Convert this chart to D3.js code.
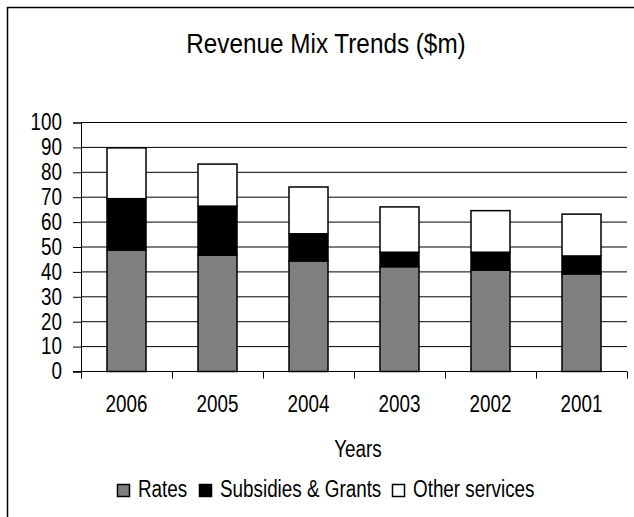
<!DOCTYPE html>
<html>
<head>
<meta charset="utf-8">
<script src="https://cdn.jsdelivr.net/npm/d3@7"></script>
<style>
  body { margin: 0; background: #fff; }
  text { font-family: "Liberation Sans", Arial, sans-serif; fill: #000; }
</style>
</head>
<body>
<svg id="chart" width="634" height="517"></svg>
<script>
// Revenue by source, $ millions, most recent year first
const years = ["2006", "2005", "2004", "2003", "2002", "2001"];
const rates = [48.8, 46.7, 44.4, 42.1, 40.7, 39.2];
const subsidiesGrants = [20.6, 19.7, 10.9, 5.8, 7.2, 7.2];
const otherServices = [20.4, 16.9, 18.8, 18.2, 16.7, 16.8];

const seriesNames = ["Rates", "Subsidies & Grants", "Other services"];
const seriesKeys = ["rates", "subsidies", "other"];
const seriesColors = ["#808080", "#000000", "#ffffff"];
const yTicks = [0, 10, 20, 30, 40, 50, 60, 70, 80, 90, 100];

const table = years.map((y, i) => ({
  year: y, rates: rates[i], subsidies: subsidiesGrants[i], other: otherServices[i]
}));

// condensed lettering: squeeze text horizontally around its anchor
const NARROW = 0.82;
function condense(sel, s) {
  sel.each(function () {
    const t = d3.select(this);
    const x0 = +t.attr("x") || 0;
    t.attr("x", x0 / s).attr("transform", `scale(${s},1)`);
  });
}

const svg = d3.select("#chart");
const plot = { left: 81, right: 627, top: 122.5, bottom: 371.5 };

// outer frame (top and left edges)
svg.append("path")
  .attr("d", `M7.5,517 V7.5 H634`)
  .attr("fill", "none").attr("stroke", "#000").attr("stroke-width", 1.5);

svg.append("text")
  .attr("x", 326).attr("y", 53)
  .attr("text-anchor", "middle")
  .style("font-size", "27px")
  .text("Revenue Mix Trends ($m)")
  .call(condense, 0.9);

const x = d3.scaleBand()
  .domain(years)
  .range([plot.left, plot.right])
  .paddingInner(52 / 91)
  .paddingOuter(26 / 91);

const y = d3.scaleLinear()
  .domain([0, 100])
  .range([plot.bottom, plot.top]);

// horizontal gridlines
svg.append("g")
  .selectAll("line")
  .data(yTicks)
  .join("line")
  .attr("x1", plot.left).attr("x2", plot.right)
  .attr("y1", d => y(d)).attr("y2", d => y(d))
  .attr("stroke", "#000").attr("stroke-width", 1);

// stacked bars
const layers = d3.stack().keys(seriesKeys)(table);

svg.append("g")
  .selectAll("g")
  .data(layers)
  .join("g")
  .attr("fill", (d, i) => seriesColors[i])
  .selectAll("rect")
  .data(d => d)
  .join("rect")
  .attr("x", d => x(d.data.year))
  .attr("width", x.bandwidth())
  .attr("y", d => y(d[1]))
  .attr("height", d => y(d[0]) - y(d[1]))
  .attr("stroke", "#000")
  .attr("stroke-width", 1.5);

// y axis
const yAxis = d3.axisLeft(y)
  .tickValues(yTicks)
  .tickSize(8)
  .tickPadding(11)
  .tickFormat(d3.format("d"));

const gy = svg.append("g")
  .attr("transform", `translate(${plot.left},0)`)
  .call(yAxis);
gy.select(".domain").attr("stroke", "#000");
gy.selectAll(".tick line").attr("stroke", "#000");
gy.selectAll(".tick text")
  .style("font-size", "23px")
  .style("font-family", null)
  .call(condense, NARROW);

// x axis: labels at band centres, tick marks on category boundaries
const xAxis = d3.axisBottom(x).tickSize(0).tickPadding(24);
const gx = svg.append("g")
  .attr("transform", `translate(0,${plot.bottom})`)
  .call(xAxis);
gx.select(".domain").remove();
gx.selectAll(".tick text")
  .style("font-size", "23px")
  .style("font-family", null)
  .call(condense, NARROW);

const boundaries = years.map((d, i) => i === 0 ? plot.left : x(d) - x.step() * x.paddingInner() / 2);
boundaries.push(plot.right);

svg.append("g")
  .selectAll("line")
  .data(boundaries)
  .join("line")
  .attr("x1", d => Math.round(d) + 0.5).attr("x2", d => Math.round(d) + 0.5)
  .attr("y1", plot.bottom).attr("y2", plot.bottom + 7)
  .attr("stroke", "#000");

svg.append("line")
  .attr("x1", plot.left - 8).attr("x2", plot.right)
  .attr("y1", plot.bottom).attr("y2", plot.bottom)
  .attr("stroke", "#000");

svg.append("text")
  .attr("x", 358).attr("y", 457)
  .attr("text-anchor", "middle")
  .style("font-size", "23px")
  .text("Years")
  .call(condense, NARROW);

// legend
const legend = svg.append("g").attr("transform", "translate(0,497)");
const items = legend.selectAll("g")
  .data(seriesNames)
  .join("g");
items.append("rect")
  .attr("x", 0.5).attr("y", -12.5)
  .attr("width", 12).attr("height", 12)
  .attr("fill", (d, i) => seriesColors[i])
  .attr("stroke", "#000").attr("stroke-width", 1.5);
items.append("text")
  .attr("x", 21)
  .style("font-size", "23px")
  .text(d => d)
  .call(condense, NARROW);

const widths = [];
items.each(function () {
  widths.push(21 + this.querySelector("text").getComputedTextLength() * NARROW);
});
const gap = 11;
const total = d3.sum(widths) + gap * (widths.length - 1);
let cursor = 326 - total / 2;
items.attr("transform", (d, i) => {
  const tx = Math.round(cursor);
  cursor += widths[i] + gap;
  return `translate(${tx},0)`;
});
</script>
</body>
</html>
